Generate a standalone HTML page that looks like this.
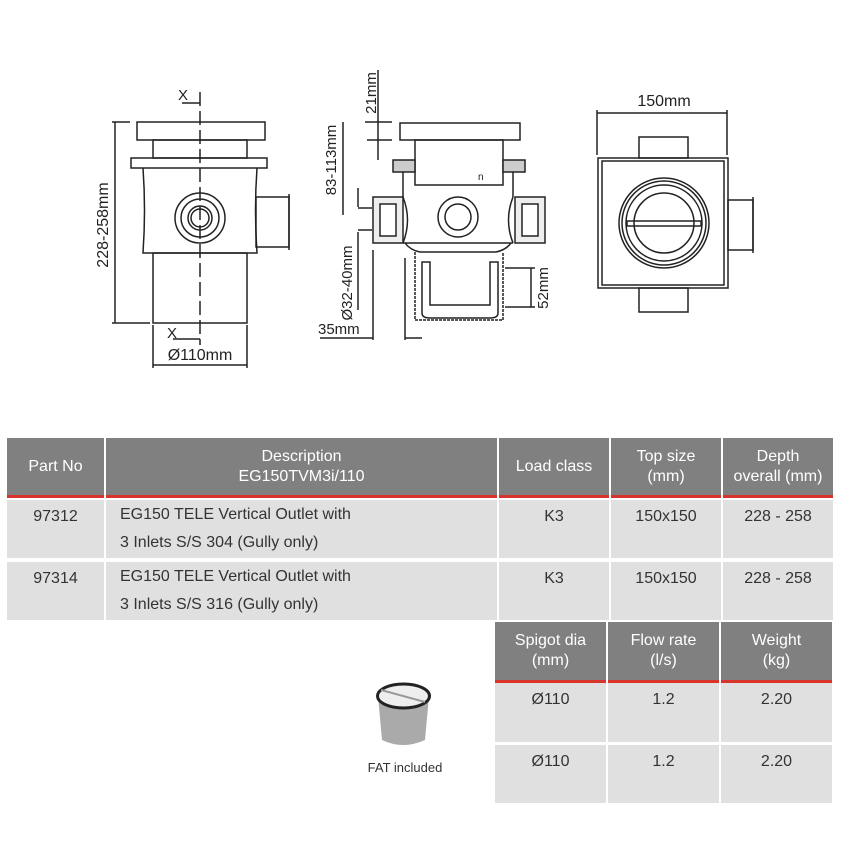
<!DOCTYPE html>
<html><head><meta charset="utf-8"><style>
body{margin:0;width:850px;height:850px;background:#fff;overflow:hidden;position:relative;font-family:"Liberation Sans",sans-serif}
.c{position:absolute;box-sizing:border-box;color:#333;font-family:"Liberation Sans",sans-serif;font-size:16px;line-height:22px}
.h{background:#808080;color:#fff;text-align:center;display:flex;align-items:center;justify-content:center;border-bottom:3px solid #d9342b;line-height:20px}
.r{background:#e0e0e0;padding-top:6px}
.ctr{text-align:center}
</style></head><body>
<svg width="850" height="420" style="position:absolute;left:0;top:0" fill="none" stroke="#222" stroke-width="1.5" font-family="Liberation Sans, sans-serif">
<rect x="137" y="122" width="128" height="18" fill="#fff"/>
<rect x="153" y="140" width="94" height="18"/>
<rect x="131" y="158" width="136" height="10"/>
<path d="M143 168 Q146 210 143 253 L257 253 Q254 210 257 168"/>
<rect x="153" y="253" width="94" height="70"/>
<rect x="256" y="197" width="33" height="50"/><line x1="289" y1="194" x2="289" y2="250"/>
<circle cx="200" cy="218" r="25"/><circle cx="200" cy="218" r="19"/><circle cx="200" cy="218" r="12"/><circle cx="200" cy="218" r="9"/>
<line x1="200" y1="92" x2="200" y2="345" stroke-dasharray="14,5"/>
<line x1="182" y1="103" x2="200" y2="103"/><line x1="173" y1="339" x2="200" y2="339"/>
<text x="178" y="100" fill="#222" stroke="none" font-size="15">X</text>
<text x="167" y="338" fill="#222" stroke="none" font-size="15">X</text>
<line x1="115" y1="122" x2="115" y2="323"/><line x1="112" y1="122" x2="130" y2="122"/><line x1="112" y1="323" x2="150" y2="323"/>
<text transform="translate(108,225) rotate(-90)" text-anchor="middle" fill="#222" stroke="none" font-size="16">228-258mm</text>
<line x1="153" y1="325" x2="153" y2="368"/><line x1="247" y1="325" x2="247" y2="368"/><line x1="153" y1="365" x2="247" y2="365"/>
<text x="200" y="360" text-anchor="middle" fill="#222" stroke="none" font-size="16">Ø110mm</text>
<rect x="400" y="123" width="120" height="17"/>
<rect x="415" y="140" width="88" height="45"/>
<rect x="393" y="160" width="22" height="12" fill="#ccc"/><rect x="503" y="160" width="22" height="12" fill="#ccc"/>
<path d="M403 172 L403 197 M513 172 L513 197 M403 243 L513 243 M405 243 Q410 250 420 252 L496 252 Q506 250 511 243"/>
<path d="M403 197 Q412 220 403 243 M513 197 Q504 220 513 243"/>
<rect x="373" y="197" width="30" height="46" fill="#eee"/><rect x="515" y="197" width="30" height="46" fill="#eee"/>
<rect x="380" y="204" width="16" height="32" fill="#fff"/><rect x="522" y="204" width="16" height="32" fill="#fff"/>
<circle cx="458" cy="217" r="20"/><circle cx="458" cy="217" r="13"/>
<path d="M415 252 L415 320 L503 320 L503 252" stroke-dasharray="3,1"/>
<path d="M422 262 L422 313 Q422 318 430 318 L490 318 Q498 318 498 313 L498 262 L490 262 L490 305 L430 305 L430 262 Z"/>
<text x="478" y="180" fill="#222" stroke="none" font-size="10">n</text>
<line x1="378" y1="70" x2="378" y2="160"/><line x1="365" y1="122" x2="392" y2="122"/><line x1="367" y1="140" x2="392" y2="140"/>
<text transform="translate(376,93) rotate(-90)" text-anchor="middle" fill="#222" stroke="none" font-size="15">21mm</text>
<line x1="343" y1="122" x2="343" y2="215"/>
<text transform="translate(336,160) rotate(-90)" text-anchor="middle" fill="#222" stroke="none" font-size="15">83-113mm</text>
<line x1="358" y1="188" x2="358" y2="207"/><line x1="358" y1="208" x2="372" y2="208"/><line x1="358" y1="230" x2="372" y2="230"/><line x1="358" y1="232" x2="358" y2="310"/>
<text transform="translate(352,283) rotate(-90)" text-anchor="middle" fill="#222" stroke="none" font-size="15">Ø32-40mm</text>
<line x1="373" y1="250" x2="373" y2="340"/><line x1="320" y1="338" x2="373" y2="338"/>
<text x="318" y="334" fill="#222" stroke="none" font-size="15">35mm</text>
<line x1="405" y1="258" x2="405" y2="340"/><line x1="405" y1="338" x2="422" y2="338"/>
<line x1="505" y1="268" x2="535" y2="268"/><line x1="505" y1="307" x2="535" y2="307"/><line x1="531" y1="268" x2="531" y2="307"/>
<text transform="translate(548,288) rotate(-90)" text-anchor="middle" fill="#222" stroke="none" font-size="15">52mm</text>
<rect x="598" y="158" width="130" height="130"/><rect x="602" y="161" width="122" height="124"/>
<rect x="639" y="137" width="49" height="21"/><rect x="639" y="288" width="49" height="24"/>
<rect x="728" y="200" width="25" height="50"/><line x1="753" y1="197" x2="753" y2="253"/>
<circle cx="664" cy="223" r="45"/><circle cx="664" cy="223" r="42"/><circle cx="664" cy="223" r="38"/><circle cx="664" cy="223" r="30"/>
<rect x="627" y="221" width="74" height="5"/>
<line x1="597" y1="110" x2="597" y2="155"/><line x1="727" y1="110" x2="727" y2="155"/><line x1="597" y1="113" x2="727" y2="113"/>
<text x="664" y="106" text-anchor="middle" fill="#222" stroke="none" font-size="16">150mm</text>
</svg>

<div class="c h" style="left:7px;top:438px;width:97px;height:60px">Part No</div>
<div class="c h" style="left:106px;top:438px;width:391px;height:60px">Description<br>EG150TVM3i/110</div>
<div class="c h" style="left:499px;top:438px;width:110px;height:60px">Load class</div>
<div class="c h" style="left:611px;top:438px;width:110px;height:60px">Top size<br>(mm)</div>
<div class="c h" style="left:723px;top:438px;width:110px;height:60px">Depth<br>overall (mm)</div>

<div class="c r ctr" style="left:7px;top:500px;width:97px;height:58px">97312</div>
<div class="c r" style="left:106px;top:500px;width:391px;height:58px;padding-left:14px;line-height:28px;padding-top:1px">EG150 TELE Vertical Outlet with<br>3 Inlets S/S 304 (Gully only)</div>
<div class="c r ctr" style="left:499px;top:500px;width:110px;height:58px">K3</div>
<div class="c r ctr" style="left:611px;top:500px;width:110px;height:58px">150x150</div>
<div class="c r ctr" style="left:723px;top:500px;width:110px;height:58px">228 - 258</div>

<div class="c r ctr" style="left:7px;top:562px;width:97px;height:58px">97314</div>
<div class="c r" style="left:106px;top:562px;width:391px;height:58px;padding-left:14px;line-height:28px;padding-top:1px">EG150 TELE Vertical Outlet with<br>3 Inlets S/S 316 (Gully only)</div>
<div class="c r ctr" style="left:499px;top:562px;width:110px;height:58px">K3</div>
<div class="c r ctr" style="left:611px;top:562px;width:110px;height:58px">150x150</div>
<div class="c r ctr" style="left:723px;top:562px;width:110px;height:58px">228 - 258</div>

<div class="c h" style="left:495px;top:622px;width:111px;height:61px">Spigot dia<br>(mm)</div>
<div class="c h" style="left:608px;top:622px;width:111px;height:61px">Flow rate<br>(l/s)</div>
<div class="c h" style="left:721px;top:622px;width:111px;height:61px">Weight<br>(kg)</div>
<div class="c r ctr" style="left:495px;top:683px;width:111px;height:59px">Ø110</div>
<div class="c r ctr" style="left:608px;top:683px;width:111px;height:59px">1.2</div>
<div class="c r ctr" style="left:721px;top:683px;width:111px;height:59px">2.20</div>
<div class="c r ctr" style="left:495px;top:745px;width:111px;height:58px">Ø110</div>
<div class="c r ctr" style="left:608px;top:745px;width:111px;height:58px">1.2</div>
<div class="c r ctr" style="left:721px;top:745px;width:111px;height:58px">2.20</div>

<svg width="80" height="80" style="position:absolute;left:365px;top:678px">
<path d="M13 18 L17 62 Q38 72 60 62 L64 18 Z" fill="#aaa"/>
<ellipse cx="38.5" cy="18" rx="26" ry="12" fill="#eee" stroke="#222" stroke-width="3"/>
<line x1="16" y1="12" x2="60" y2="24" stroke="#999" stroke-width="2"/>
</svg>
<div class="c" style="left:355px;top:757px;width:100px;text-align:center;font-size:13px">FAT included</div>
</body></html>
